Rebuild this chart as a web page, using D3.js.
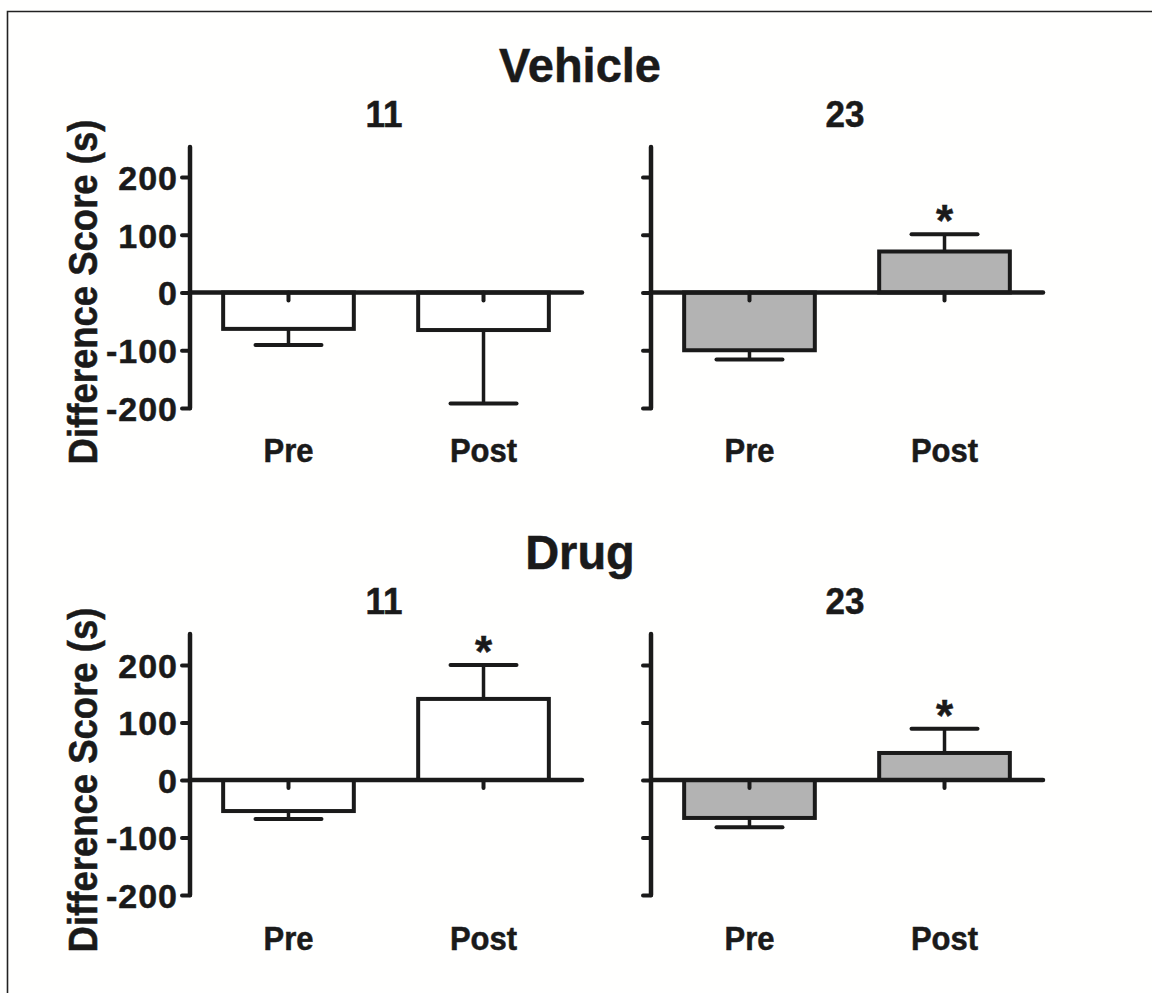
<!DOCTYPE html>
<html>
<head>
<meta charset="utf-8">
<script src="https://cdn.jsdelivr.net/npm/d3@7"></script>
<style>
  html, body { margin: 0; padding: 0; background: #fffffe; }
  svg { display: block; }
  text { font-family: "Liberation Sans", Arial, sans-serif; font-weight: bold; fill: #1a1a1a; stroke: #1a1a1a; stroke-width: 0.5px; }
</style>
</head>
<body>
<svg id="chart" width="1152" height="993"></svg>
<script>
// ---- data ----
const groups = ["Vehicle", "Drug"];
const sessions = ["11", "23"];
const phases = ["Pre", "Post"];
const yTicks = [-200, -100, 0, 100, 200];
const yLabel = "Difference Score (s)";

const vehicle11Mean = [-63, -65];
const vehicle11Err  = [28, 127];
const vehicle23Mean = [-100, 71];
const vehicle23Err  = [16, 30];
const drug11Mean    = [-54, 141];
const drug11Err     = [14, 59];
const drug23Mean    = [-66, 47];
const drug23Err     = [16, 42];

const vehicle11Sig = [false, false];
const vehicle23Sig = [false, true];
const drug11Sig    = [false, true];
const drug23Sig    = [false, true];

const panels = [
  { group: 0, session: 0, mean: vehicle11Mean, err: vehicle11Err, sig: vehicle11Sig, fill: "#ffffff", showLabels: true },
  { group: 0, session: 1, mean: vehicle23Mean, err: vehicle23Err, sig: vehicle23Sig, fill: "#b3b3b3", showLabels: false },
  { group: 1, session: 0, mean: drug11Mean,    err: drug11Err,    sig: drug11Sig,    fill: "#ffffff", showLabels: true },
  { group: 1, session: 1, mean: drug23Mean,    err: drug23Err,    sig: drug23Sig,    fill: "#b3b3b3", showLabels: false }
];

// ---- layout ----
const svg = d3.select("#chart");
const ink = "#1a1a1a";

// frame border
svg.append("path")
  .attr("d", "M7.5,1000 L7.5,11.5 L1160,11.5")
  .attr("fill", "none").attr("stroke", "#222").attr("stroke-width", 1.6);

const rowGeom = [
  { titleY: 82, subY: 127, y0: 177, y1: 408, top: 147, catY: 462, labelY: 292 },
  { titleY: 569, subY: 614, y0: 665, y1: 895, top: 634, catY: 950, labelY: 780 }
];
const colGeom = [
  { x0: 190, x1: 582 },
  { x0: 651, x1: 1043 }
];

// text helper: stretched vertically like the reference
function label(sel, x, y, txt, size, sy, anchor) {
  return sel.append("text")
    .attr("transform", `translate(${x},${y}) scale(1,${sy})`)
    .attr("text-anchor", anchor || "middle")
    .style("font-size", size + "px").text(txt);
}

groups.forEach((g, i) => {
  label(svg, 580, rowGeom[i].titleY, g, 47, 1.02);
  svg.append("text")
    .attr("transform", `translate(97,${rowGeom[i].labelY}) rotate(-90) scale(1,1.12)`)
    .attr("text-anchor", "middle").style("font-size", "36.5px").text(yLabel);
});

panels.forEach(p => {
  const r = rowGeom[p.group], c = colGeom[p.session];
  const y = d3.scaleLinear().domain([-200, 200]).range([r.y1, r.y0]);
  const x = d3.scaleBand().domain(phases).range([c.x0, c.x1])
    .paddingInner(0.33).paddingOuter(0.17);
  const g = svg.append("g");

  // session subtitle
  label(g, (c.x0 + c.x1) / 2 - 2, r.subY, sessions[p.session], 35, 1.05);

  // y axis
  const yAxis = d3.axisLeft(y).tickValues(yTicks).tickSize(8).tickPadding(4)
    .tickFormat(p.showLabels ? (d => String(d)) : () => "");
  const ya = g.append("g").attr("transform", `translate(${c.x0},0)`).call(yAxis);
  ya.select(".domain").remove();
  ya.selectAll(".tick line").attr("stroke", ink).attr("stroke-width", 4).attr("stroke-linecap", "round");
  ya.selectAll(".tick text").style("font-size", "34px").style("letter-spacing", "1px")
    .attr("dy", "0.36em").attr("fill", ink).attr("font-family", null);
  g.append("line").attr("x1", c.x0).attr("x2", c.x0)
    .attr("y1", r.top).attr("y2", y(-200))
    .attr("stroke", ink).attr("stroke-width", 4.5).attr("stroke-linecap", "round");

  // bars
  phases.forEach((ph, k) => {
    const v = p.mean[k];
    const bx = x(ph), bw = x.bandwidth();
    g.append("rect")
      .attr("x", bx).attr("width", bw)
      .attr("y", Math.min(y(v), y(0))).attr("height", Math.abs(y(v) - y(0)))
      .attr("fill", p.fill).attr("stroke", ink).attr("stroke-width", 4);
    const cx = bx + bw / 2;
    const errV = v + Math.sign(v) * p.err[k];
    g.append("line").attr("x1", cx).attr("x2", cx).attr("y1", y(v)).attr("y2", y(errV))
      .attr("stroke", ink).attr("stroke-width", 3.5);
    g.append("line").attr("x1", cx - 33).attr("x2", cx + 33).attr("y1", y(errV)).attr("y2", y(errV))
      .attr("stroke", ink).attr("stroke-width", 4).attr("stroke-linecap", "round");
    if (p.sig[k]) {
      g.append("text").attr("x", cx).attr("y", y(errV) + 2)
        .attr("text-anchor", "middle").style("font-size", "44px").text("*");
    }
  });

  // x axis (zero line) with ticks at the bar centres
  const xAxis = d3.axisBottom(x).tickSize(8).tickSizeOuter(0).tickFormat("");
  const xa = g.append("g").attr("transform", `translate(0,${y(0)})`).call(xAxis);
  xa.select(".domain").attr("stroke", ink).attr("stroke-width", 4.5).attr("stroke-linecap", "round")
    .attr("d", `M${c.x0},0H${c.x1}`);
  xa.selectAll(".tick line").attr("stroke", ink).attr("stroke-width", 4).attr("stroke-linecap", "round");

  // category labels
  phases.forEach(ph => {
    label(g, x(ph) + x.bandwidth() / 2, r.catY, ph, 31, 1.1);
  });
});
</script>
</body>
</html>
